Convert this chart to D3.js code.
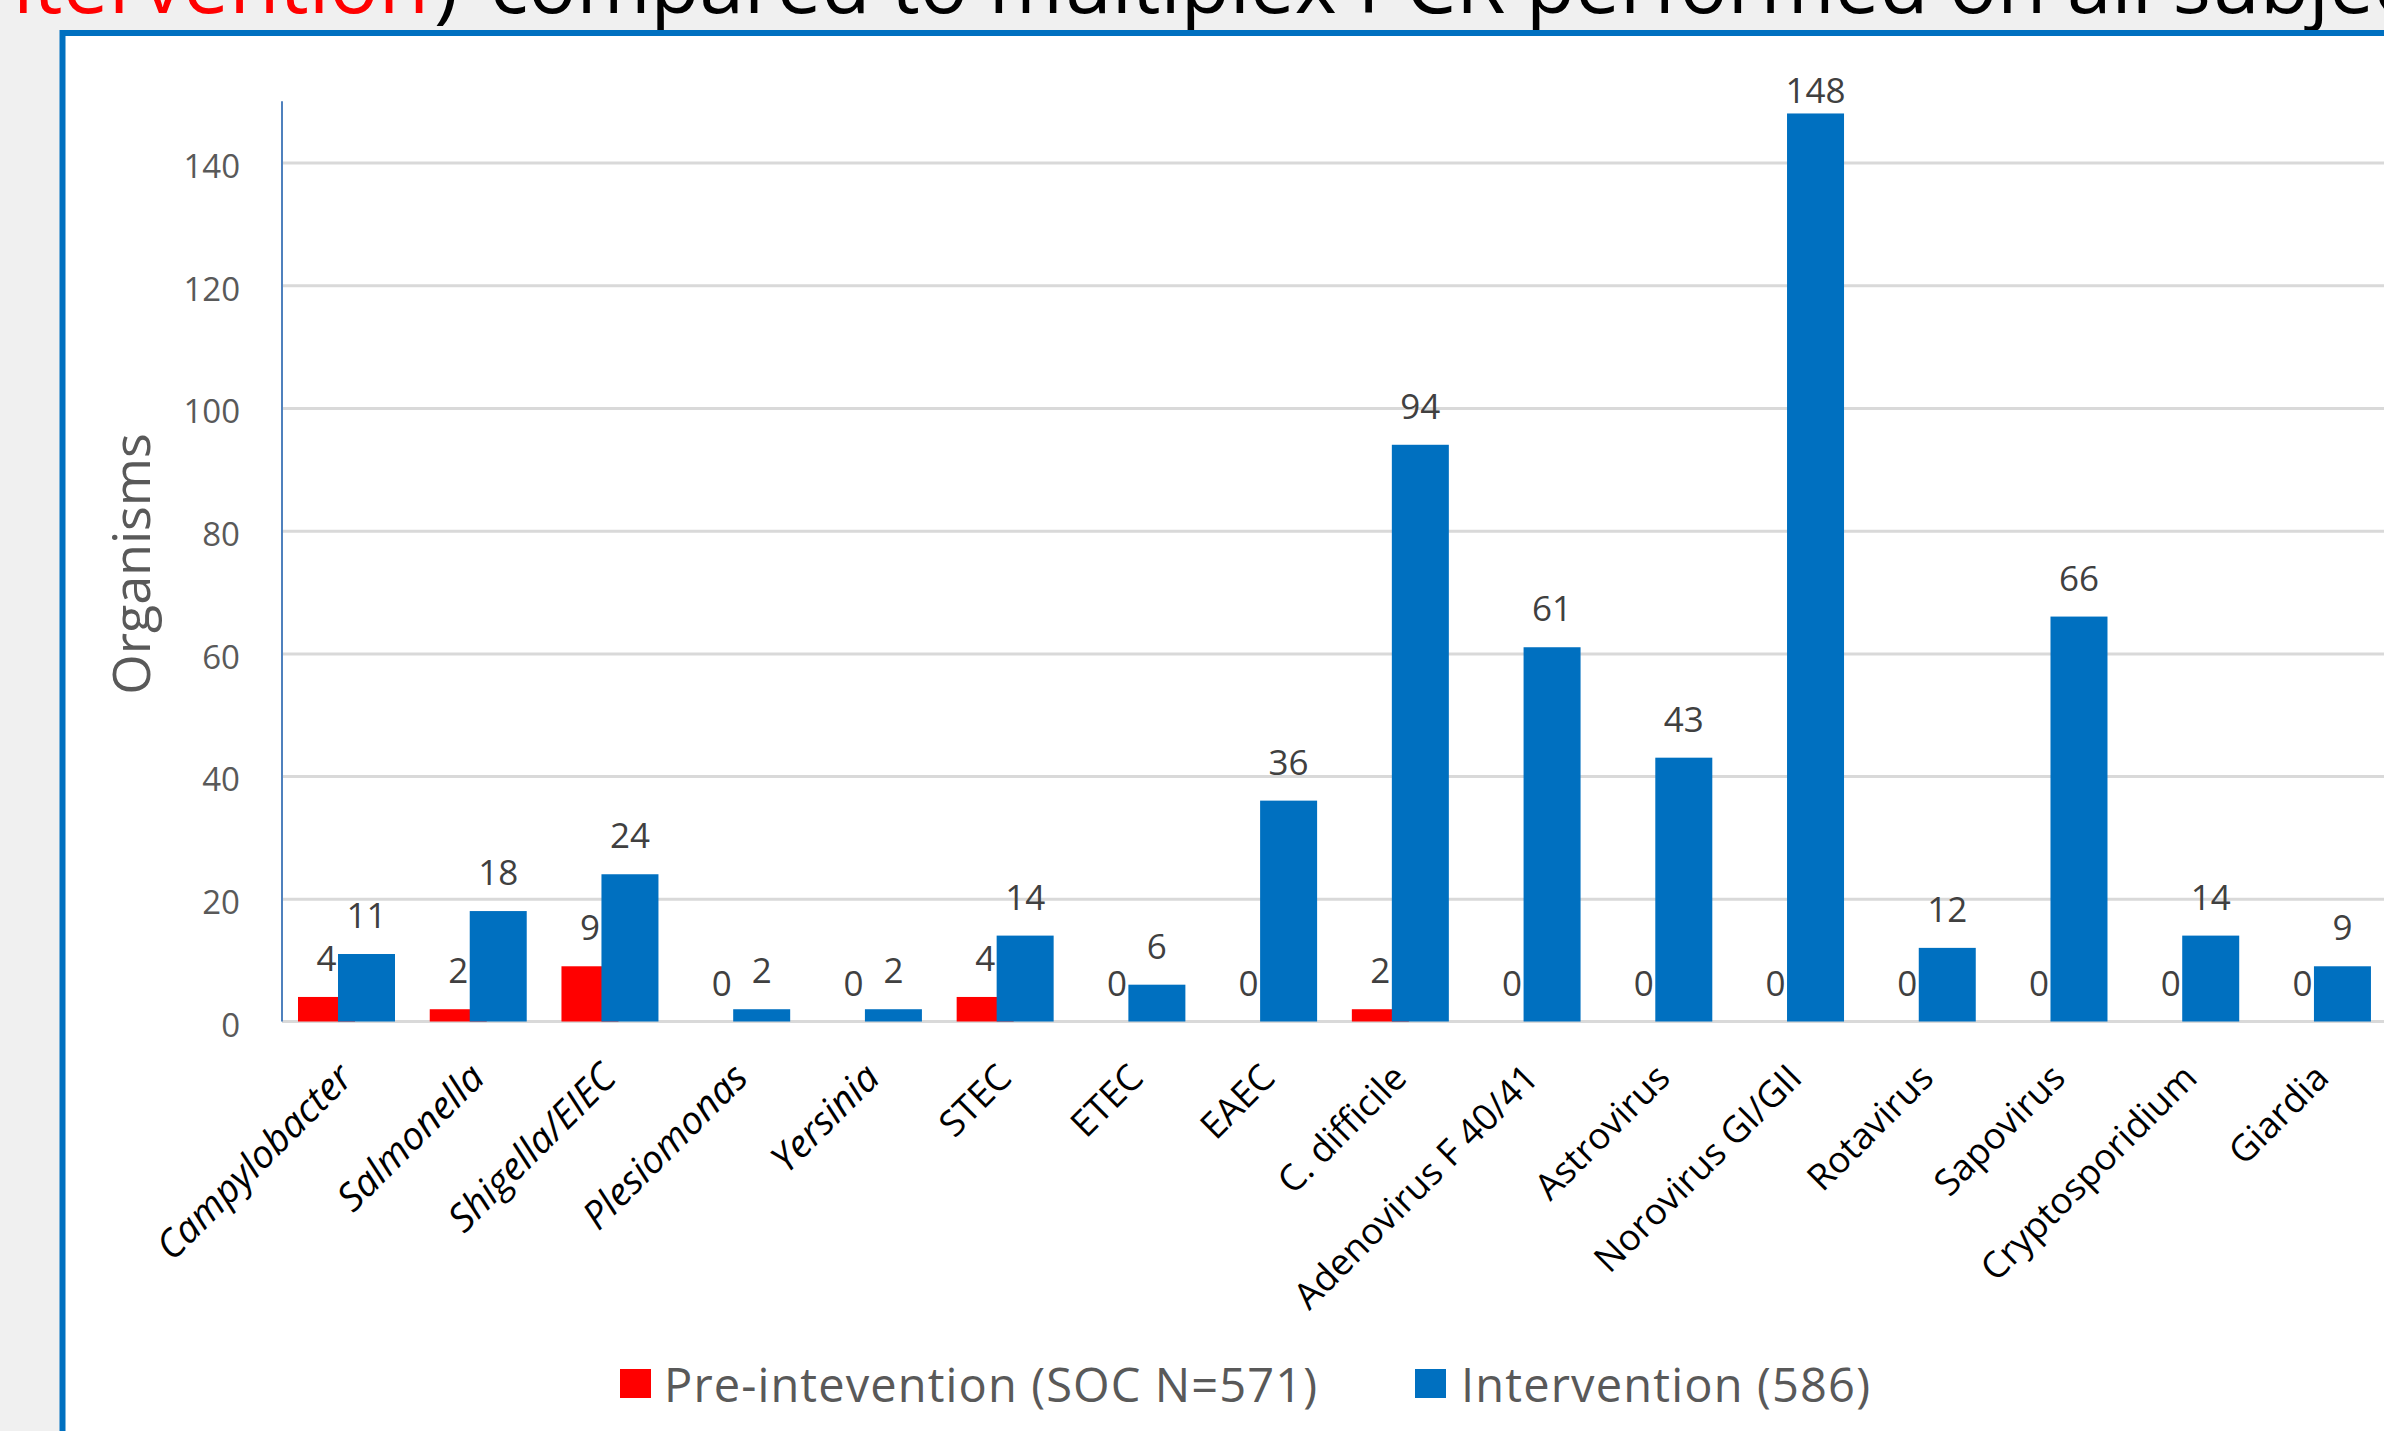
<!DOCTYPE html>
<html>
<head>
<meta charset="utf-8">
<script src="https://cdn.jsdelivr.net/npm/d3@7"></script>
<style>
  html, body { margin: 0; padding: 0; background: #f0f0f0; overflow: hidden; }
  svg { display: block; }
</style>
</head>
<body>
<svg id="chart" width="2384" height="1431"></svg>
<script>
// ---- data ----
const categories = ["Campylobacter", "Salmonella", "Shigella/EIEC", "Plesiomonas", "Yersinia", "STEC", "ETEC", "EAEC", "C. difficile", "Adenovirus F 40/41", "Astrovirus", "Norovirus GI/GII", "Rotavirus", "Sapovirus", "Cryptosporidium", "Giardia"];
const italicCategories = ["Campylobacter", "Salmonella", "Shigella/EIEC", "Plesiomonas", "Yersinia"];
const preIntervention = [4, 2, 9, 0, 0, 4, 0, 0, 2, 0, 0, 0, 0, 0, 0, 0];
const intervention = [11, 18, 24, 2, 2, 14, 6, 36, 94, 61, 43, 148, 12, 66, 14, 9];
const seriesNames = ["Pre-intevention (SOC N=571)", "Intervention (586)"];
const yTicks = [0, 20, 40, 60, 80, 100, 120, 140];
const yAxisTitle = "Organisms";
const titleRed = "intervention";
const titleParen = ")";
const titleBlack = "compared to multiplex PCR performed on all subjects";

// ---- layout ----
const svg = d3.select("#chart");
const W = 2384, H = 1431;
const plotLeft = 282, bandW = 131.73;
const plotRight = plotLeft + bandW * categories.length;
const plotBottom = 1021.5, plotTop = 101.2;
const colors = ["#ff0000", "#0070c0"];
const font = "'Open Sans', 'Noto Sans', sans-serif";

// slide background
svg.append("rect").attr("width", W).attr("height", H).attr("fill", "#f0f0f0");

// slide title (cut off at top)
svg.append("text").attr("x", 429).attr("y", 13)
  .attr("text-anchor", "end").attr("font-family", font).attr("font-size", 82)
  .attr("fill", "#ff0000").text(titleRed);
svg.append("text").attr("x", 434).attr("y", 13)
  .attr("font-family", font).attr("font-size", 82)
  .attr("fill", "#000").text(titleParen);
svg.append("text").attr("x", 490).attr("y", 13)
  .attr("font-family", font).attr("font-size", 80)
  .attr("fill", "#000").text(titleBlack);

// chart frame: white area with blue border
svg.append("rect").attr("x", 62.5).attr("y", 33).attr("width", W).attr("height", H)
  .attr("fill", "#ffffff").attr("stroke", "#0070c0").attr("stroke-width", 6);

const x = d3.scaleBand().domain(categories).range([plotLeft, plotRight]).paddingInner(0).paddingOuter(0);
const y = d3.scaleLinear().domain([0, 150]).range([plotBottom, plotTop]);

// gridlines
const grid = svg.append("g").attr("transform", `translate(${plotLeft},0)`)
  .call(d3.axisLeft(y).tickValues(yTicks.filter(t => t > 0)).tickSize(-(plotRight - plotLeft)).tickFormat(""));
grid.select(".domain").remove();
grid.selectAll(".tick line").attr("stroke", "#d9d9d9").attr("stroke-width", 3);

// y tick labels
const yAxis = svg.append("g").attr("transform", `translate(${plotLeft},0)`)
  .call(d3.axisLeft(y).tickValues(yTicks).tickSize(0).tickPadding(42));
yAxis.select(".domain").remove();
yAxis.selectAll(".tick text").attr("font-family", font).attr("font-size", 33)
  .attr("fill", "#595959").attr("dy", "0.45em");

// x baseline
svg.append("line").attr("x1", plotLeft).attr("x2", plotRight)
  .attr("y1", y(0)).attr("y2", y(0)).attr("stroke", "#d9d9d9").attr("stroke-width", 3);

// bars
const barW = 0.4327 * bandW;
const barStart = 0.1215 * bandW;
const seriesShift = 0.3036 * bandW;
const series = [preIntervention, intervention];
series.forEach((vals, si) => {
  const g = svg.append("g");
  g.selectAll("rect").data(vals).join("rect")
    .attr("x", (d, i) => x(categories[i]) + barStart + si * seriesShift)
    .attr("y", d => y(d))
    .attr("width", barW)
    .attr("height", d => y(0) - y(d))
    .attr("fill", colors[si]);
});
// labels
series.forEach((vals, si) => {
  svg.append("g").selectAll("text").data(vals).join("text")
    .attr("x", (d, i) => x(categories[i]) + barStart + si * seriesShift + barW / 2)
    .attr("y", d => Math.max(y(d) - 26, 103))
    .attr("text-anchor", "middle")
    .attr("font-family", font).attr("font-size", 35).attr("fill", "#404040")
    .text(d => d);
});

// y axis line
svg.append("line").attr("x1", plotLeft).attr("x2", plotLeft)
  .attr("y1", y(150)).attr("y2", y(0)).attr("stroke", "#4f81bd").attr("stroke-width", 2);

// category labels
svg.append("g").selectAll("text").data(categories).join("text")
  .attr("transform", d => `translate(${x(d) + bandW / 2 + 7},${1080}) rotate(-45)`)
  .attr("text-anchor", "end")
  .attr("font-family", font)
  .attr("font-size", d => italicCategories.includes(d) ? 38.5 : 36.5)
  .attr("font-style", d => italicCategories.includes(d) ? "italic" : "normal")
  .attr("fill", "#000")
  .text(d => d);

// y axis title
svg.append("text").attr("transform", "translate(150,564) rotate(-90)")
  .attr("text-anchor", "middle").attr("font-family", font).attr("font-size", 52)
  .attr("fill", "#595959").text(yAxisTitle);

// legend
const legendX = [620, 1415], legendTextX = [664, 1461], legendW = [653, 409];
seriesNames.forEach((name, i) => {
  svg.append("rect").attr("x", legendX[i]).attr("y", 1369).attr("width", 31).attr("height", 29).attr("fill", colors[i]);
  svg.append("text").attr("x", legendTextX[i]).attr("y", 1402)
    .attr("font-family", font).attr("font-size", 47).attr("fill", "#595959")
    .attr("textLength", legendW[i]).attr("lengthAdjust", "spacing")
    .text(name);
});
</script>
</body>
</html>
